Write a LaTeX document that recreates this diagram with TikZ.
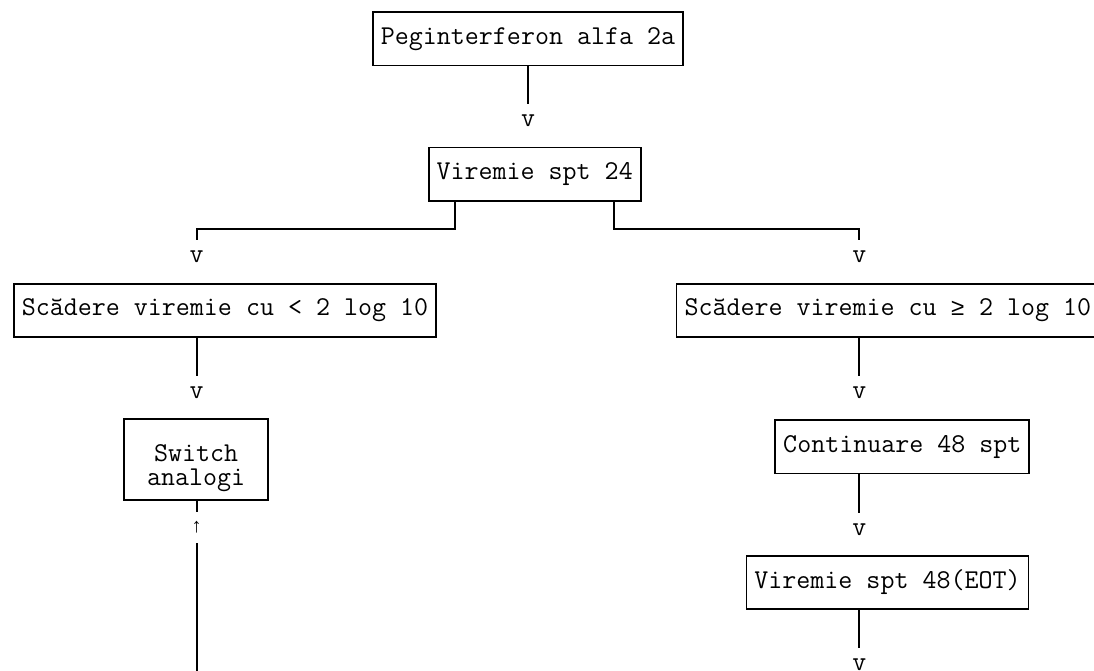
\documentclass[tikz,border=0pt]{standalone}
\usepackage{fontspec}
\newfontfamily\symfont{Liberation Mono}
\newcommand{\geqsign}{{\symfont\fontsize{23.8}{24}\selectfont ≥}}
\usetikzlibrary{calc,positioning}
\begin{document}
\begin{tikzpicture}[x=1pt, y=-1pt, line width=1.8pt,
	box/.style = {draw, inner xsep=8pt, inner ysep=0pt, minimum height=53.5pt, font=\ttfamily\fontsize{27.2}{24}\selectfont},
	tip/.style = {inner sep=0pt, minimum height=32pt, font=\ttfamily\fontsize{27.2}{24}\selectfont}]
	\clip (0,0) rectangle (1094,670);
	\node[box] (peg) at (528,38.7) {Peginterferon alfa 2a};
	\node[tip] (t1) at (528,121) {v};
	\node[box] (v24) at (534.7,174.2) {Viremie spt 24};
	\node[tip] (tL) at (196.7,256.7) {v};
	\node[tip] (tR) at (859.3,256.7) {v};
	\node[box] (mic) at (225,310.5) {Scădere viremie cu < 2 log 10};
	\node[box] (mare) at (887.8,310.5) {Scădere viremie cu \geqsign{} 2 log 10};
	\node[tip] (tL2) at (196.7,393) {v};
	\node[tip] (tR2) at (859.3,393) {v};
	\node[box, minimum width=144pt, minimum height=80.7pt, align=center, text height=57pt] (sw) at (196.2,459.7) {Switch\\analogi};
	\node[box] (cont) at (902.3,446.7) {Continuare 48 spt};
	\node[tip, minimum height=29pt, font=\symfont\fontsize{20}{24}\selectfont] (up) at (196.7,527.5) {↑};
	\node[tip] (tR3) at (859.3,530) {v};
	\node[box] (v48) at (887.5,582.5) {Viremie spt 48(EOT)};
	\node[tip] (tR4) at (859.3,665) {v};
	\coordinate (end) at (196.7,672);
	\draw (peg.south -| t1) -- (t1);
	\draw ([xshift=-79.4pt]v24.south) -- ++(0,27) -| (tL);
	\draw ([xshift=79.3pt]v24.south) -- ++(0,27) -| (tR);
	\draw (mic.south -| tL2) -- (tL2);
	\draw (mare.south -| tR2) -- (tR2);
	\draw (sw.south -| up) -- (up);
	\draw (end) -- (up);
	\draw (cont.south -| tR3) -- (tR3);
	\draw (v48.south -| tR4) -- (tR4);
\end{tikzpicture}
\end{document}
